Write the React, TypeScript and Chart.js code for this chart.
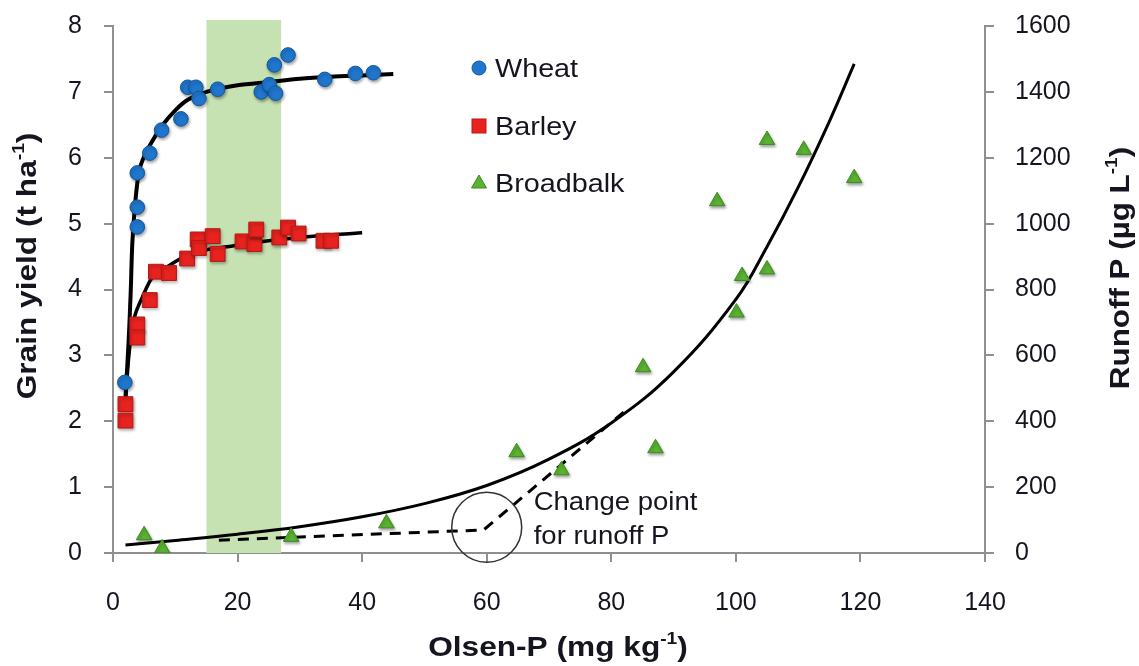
import React, { useEffect, useRef } from "react";
import { Chart, registerables } from "chart.js";

Chart.register(...registerables);

// ---- Data ----
const wheatX = [1.9, 3.9, 3.9, 3.9, 5.9, 7.8, 10.9, 12.0, 13.3, 13.8, 16.8, 23.8, 25.1, 26.1, 25.9, 28.1, 34.0, 38.9, 41.8];
const wheatY = [2.59, 4.95, 5.25, 5.77, 6.07, 6.42, 6.59, 7.07, 7.07, 6.9, 7.04, 7.0, 7.11, 6.98, 7.41, 7.56, 7.19, 7.28, 7.29];

const barleyX = [2.0, 2.0, 3.9, 3.9, 5.9, 6.9, 9.0, 11.9, 13.6, 13.8, 16.0, 16.8, 20.8, 22.7, 23.0, 26.7, 28.1, 29.8, 33.8, 35.0];
const barleyY = [2.26, 2.01, 3.47, 3.27, 3.84, 4.27, 4.25, 4.47, 4.76, 4.63, 4.81, 4.54, 4.73, 4.69, 4.91, 4.79, 4.94, 4.85, 4.74, 4.74];

const broadX = [5.0, 7.9, 28.6, 43.9, 64.8, 72.0, 85.1, 87.1, 97.0, 100.1, 101.0, 105.0, 105.0, 110.9, 119.0];
const broadY = [54, 14, 49, 90, 306, 251, 564, 318, 1068, 730, 841, 861, 1254, 1224, 1138];

const wheatFitX = [2.0, 2.5, 2.85, 3.1, 3.6, 4.2, 5.0, 6.3, 8.0, 10, 12, 15, 20, 25, 30, 35, 40, 45];
const wheatFitY = [2.36, 3.2, 3.98, 4.7, 5.35, 5.8, 6.02, 6.25, 6.5, 6.72, 6.88, 7.0, 7.1, 7.15, 7.2, 7.23, 7.25, 7.27];

const barleyFitX = [2.0, 2.5, 3.0, 3.6, 4.7, 6.3, 8.5, 11.7, 15.4, 19.2, 25, 30, 35, 40];
const barleyFitY = [2.3, 2.95, 3.35, 3.63, 3.88, 4.18, 4.33, 4.51, 4.61, 4.66, 4.74, 4.79, 4.83, 4.86];

const runoffFitX = [2, 10, 20, 30, 40, 50, 60, 70, 80, 90, 100, 105, 110, 115, 119];
const runoffFitY = [24, 38, 57, 80, 110, 150, 205, 285, 395, 550, 770, 930, 1110, 1310, 1485];

const changeX = [17, 59.5, 82];
const changeY = [39, 70, 428];

const bandRange = [15, 27];
const changePoint = [60, 78];

const xTicks = [0, 20, 40, 60, 80, 100, 120, 140];
const yTicks = [0, 1, 2, 3, 4, 5, 6, 7, 8];
const y2Ticks = [0, 200, 400, 600, 800, 1000, 1200, 1400, 1600];

const legendLabels = ["Wheat", "Barley", "Broadbalk"];
const annotationLines = ["Change point", "for runoff P"];

const zip = (xs: number[], ys: number[]) => xs.map((x, i) => ({ x, y: ys[i] }));

const FONT = "'Liberation Sans', Arial, sans-serif";
const BLUE = "#1f76cc";
const BLUE_B = "#15579a";
const RED = "#e8231f";
const RED_B = "#b71814";
const GREEN = "#5ab331";
const GREEN_B = "#3f8a1f";
const AXIS = "#8f8f8f";
const TEXT = "#151520";

type Part = { t: string; sup?: boolean };

function drawParts(ctx: CanvasRenderingContext2D, parts: Part[], size: number, bold: boolean, sx: number) {
  const main = `${bold ? "bold " : ""}${size}px ${FONT}`;
  const sub = `${bold ? "bold " : ""}${Math.round(size * 0.6)}px ${FONT}`;
  let w = 0;
  for (const p of parts) {
    ctx.font = p.sup ? sub : main;
    w += ctx.measureText(p.t).width;
  }
  ctx.save();
  ctx.scale(sx, 1);
  let x = -w / 2;
  ctx.textBaseline = "middle";
  ctx.textAlign = "left";
  for (const p of parts) {
    ctx.font = p.sup ? sub : main;
    ctx.fillText(p.t, x, p.sup ? -size * 0.32 : 0);
    x += ctx.measureText(p.t).width;
  }
  ctx.restore();
}

function drawScaled(ctx: CanvasRenderingContext2D, t: string, x: number, y: number, font: string, sx: number) {
  ctx.save();
  ctx.translate(x, y);
  ctx.scale(sx, 1);
  ctx.font = font;
  ctx.textAlign = "left";
  ctx.textBaseline = "middle";
  ctx.fillText(t, 0, 0);
  ctx.restore();
}

const decorPlugin = {
  id: "decor",
  beforeDatasetsDraw(chart: any) {
    const { ctx, chartArea, scales } = chart;
    const x0 = scales.x.getPixelForValue(bandRange[0]);
    const x1 = scales.x.getPixelForValue(bandRange[1]);
    ctx.save();
    ctx.fillStyle = "#c6e1b2";
    ctx.fillRect(x0, chartArea.top - 6, x1 - x0, chartArea.bottom - chartArea.top + 6);
    ctx.restore();
  },
  beforeDatasetDraw(chart: any, args: any) {
    const ctx = chart.ctx;
    ctx.save();
    const ds = chart.data.datasets[args.index];
    if (ds.isMarker) {
      ctx.shadowColor = "rgba(0,0,0,0.35)";
      ctx.shadowBlur = 3;
      ctx.shadowOffsetX = 1;
      ctx.shadowOffsetY = 2;
    }
  },
  afterDatasetDraw(chart: any) {
    chart.ctx.restore();
  },
  afterDraw(chart: any) {
    const { ctx, scales } = chart;
    ctx.save();
    ctx.fillStyle = TEXT;

    // x title
    ctx.save();
    ctx.translate(558, 648);
    drawParts(ctx, [{ t: "Olsen-P (mg kg" }, { t: "-1", sup: true }, { t: ")" }], 28, true, 1.13);
    ctx.restore();

    // left title
    ctx.save();
    ctx.translate(28, 266);
    ctx.rotate(-Math.PI / 2);
    drawParts(ctx, [{ t: "Grain yield (t ha" }, { t: "-1", sup: true }, { t: ")" }], 28, true, 1.13);
    ctx.restore();

    // right title
    ctx.save();
    ctx.translate(1121, 268);
    ctx.rotate(-Math.PI / 2);
    drawParts(ctx, [{ t: "Runoff P (µg L" }, { t: "-1", sup: true }, { t: ")" }], 28, true, 1.12);
    ctx.restore();

    // legend
    const rows = [68, 126, 183];
    const lx = 479;
    ctx.save();
    ctx.fillStyle = BLUE;
    ctx.strokeStyle = BLUE_B;
    ctx.lineWidth = 1;
    ctx.beginPath();
    ctx.arc(lx, rows[0], 7, 0, Math.PI * 2);
    ctx.fill();
    ctx.stroke();
    ctx.fillStyle = RED;
    ctx.strokeStyle = RED_B;
    ctx.fillRect(lx - 7, rows[1] - 7, 14, 14);
    ctx.strokeRect(lx - 7, rows[1] - 7, 14, 14);
    ctx.fillStyle = GREEN;
    ctx.strokeStyle = GREEN_B;
    ctx.beginPath();
    ctx.moveTo(lx, rows[2] - 8);
    ctx.lineTo(lx + 7.5, rows[2] + 5);
    ctx.lineTo(lx - 7.5, rows[2] + 5);
    ctx.closePath();
    ctx.fill();
    ctx.stroke();
    ctx.restore();

    legendLabels.forEach((l, i) => drawScaled(ctx, l, 495, rows[i] + 2, `25px ${FONT}`, 1.15));

    // change point annotation
    const cx = scales.x.getPixelForValue(changePoint[0]);
    const cy = scales.y2.getPixelForValue(changePoint[1]);
    ctx.strokeStyle = "#333";
    ctx.lineWidth = 1.5;
    ctx.beginPath();
    ctx.arc(cx, cy, 35, 0, Math.PI * 2);
    ctx.stroke();
    drawScaled(ctx, annotationLines[0], cx + 47, cy - 24, `25px ${FONT}`, 1.1);
    drawScaled(ctx, annotationLines[1], cx + 47, cy + 10, `25px ${FONT}`, 1.1);
    ctx.restore();
  },
};

export default function App() {
  const ref = useRef<HTMLCanvasElement | null>(null);
  useEffect(() => {
    if (!ref.current) return;
    const marker = (label: string, data: any[], color: string, border: string, style: string, r: number, yAxisID: string) => ({
      type: "scatter" as const,
      label,
      data,
      yAxisID,
      showLine: false,
      pointStyle: style,
      pointRadius: r,
      pointHoverRadius: r,
      backgroundColor: color,
      borderColor: border,
      pointBorderWidth: 1,
      isMarker: true,
      order: 0,
    });
    const line = (label: string, data: any[], width: number, yAxisID: string, dash: number[] = [], tension = 0.4) => ({
      type: "line" as const,
      label,
      data,
      yAxisID,
      borderColor: "#000",
      borderWidth: width,
      borderDash: dash,
      pointRadius: 0,
      fill: false,
      tension,
      order: 2,
    });
    const tickFont = { family: FONT, size: 25 };
    const fitV = (w: number) => (s: any) => {
      s.width = w;
      s.paddingTop = 0;
      s.paddingBottom = 0;
    };
    const chart = new Chart(ref.current, {
      type: "scatter",
      data: {
        datasets: [
          line("Wheat fit", zip(wheatFitX, wheatFitY), 4, "y", [], 0.3),
          line("Barley fit", zip(barleyFitX, barleyFitY), 3.5, "y", [], 0.3),
          line("Runoff fit", zip(runoffFitX, runoffFitY), 3, "y2"),
          line("Change point", zip(changeX, changeY), 3, "y2", [11, 8], 0),
          marker("Wheat", zip(wheatX, wheatY), BLUE, BLUE_B, "circle", 7.3, "y"),
          marker("Barley", zip(barleyX, barleyY), RED, RED_B, "rect", 10.5, "y"),
          marker("Broadbalk", zip(broadX, broadY), GREEN, GREEN_B, "triangle", 9, "y2"),
        ] as any,
      },
      options: {
        responsive: false,
        animation: false,
        devicePixelRatio: 1,
        layout: { padding: { top: 26, left: 0, right: 0, bottom: 0 } },
        plugins: { legend: { display: false }, tooltip: { enabled: false } },
        scales: {
          x: {
            type: "linear",
            min: 0,
            max: 140,
            afterBuildTicks: (s: any) => { s.ticks = xTicks.map((v) => ({ value: v })); },
            afterFit: (s: any) => { s.height = 113; s.paddingLeft = 0; s.paddingRight = 0; },
            ticks: { font: tickFont, color: TEXT, padding: 26, maxRotation: 0, callback: (v: any) => String(v) },
            grid: { drawOnChartArea: false, color: AXIS, lineWidth: 2, tickLength: 9 },
            border: { color: AXIS, width: 2 },
          },
          y: {
            type: "linear",
            position: "left",
            min: 0,
            max: 8,
            afterBuildTicks: (s: any) => { s.ticks = yTicks.map((v) => ({ value: v })); },
            afterFit: fitV(113),
            ticks: { font: tickFont, color: TEXT, padding: 22, callback: (v: any) => String(v) },
            grid: { drawOnChartArea: false, color: AXIS, lineWidth: 2, tickLength: 9 },
            border: { color: AXIS, width: 2 },
          },
          y2: {
            type: "linear",
            position: "right",
            min: 0,
            max: 1600,
            afterBuildTicks: (s: any) => { s.ticks = y2Ticks.map((v) => ({ value: v })); },
            afterFit: fitV(154),
            ticks: { font: tickFont, color: TEXT, padding: 21, callback: (v: any) => String(v) },
            grid: { drawOnChartArea: false, color: AXIS, lineWidth: 2, tickLength: 9 },
            border: { color: AXIS, width: 2 },
          },
        },
      } as any,
      plugins: [decorPlugin],
    });
    return () => chart.destroy();
  }, []);
  return (
    <div style={{ position: "fixed", left: 0, top: 0, width: 1139, height: 666, background: "#fff" }}>
      <canvas ref={ref} width={1139} height={666} style={{ display: "block", width: 1139, height: 666 }} />
    </div>
  );
}
